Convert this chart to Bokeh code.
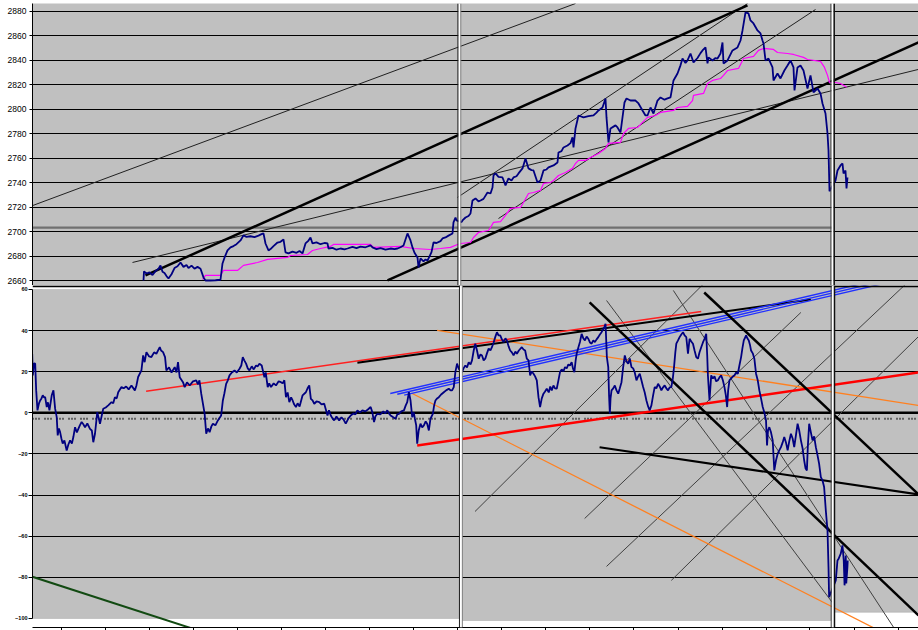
from bokeh.plotting import figure
from bokeh.models import Range1d, FixedTicker, BoxAnnotation, Span
from bokeh.layouts import column
from bokeh.embed import file_html
from bokeh.resources import INLINE

# ---------------- data: upper chart (price) ----------------
price_t = [143, 143.5, 146, 149, 152, 155, 158, 160, 162, 164, 166, 168, 171, 174, 177, 180, 183, 186, 188, 191,
           194, 197, 200, 203, 205, 210, 215, 220, 222, 224, 227, 230, 233, 236, 240, 243, 246, 250, 254, 258,
           261, 263, 265, 268, 270, 273, 277, 280, 283, 285, 288, 292, 296, 299, 302, 305, 308, 310, 312, 316,
           320, 324, 327, 328, 332, 336, 340, 344, 347, 352, 356, 360, 365, 370, 372, 376, 380, 385, 390, 394,
           397, 400, 403, 407, 410, 412, 414, 417, 418, 420, 423, 425, 427, 429, 431, 433, 436, 440, 442, 445,
           448, 452, 453, 455, 456,
           461, 462, 465, 468, 470, 472, 475, 478, 480, 483, 487, 490, 492, 493, 495, 498, 502, 505, 508, 511,
           513, 516, 518, 522, 525, 528, 531, 533, 537, 540, 543, 546, 548, 553, 557, 558, 561, 563, 567, 570,
           572, 573, 575, 578, 583, 588, 593, 596, 598, 602, 605, 606, 608, 610, 613, 615, 617, 620, 622, 624,
           626, 630, 635, 638, 642, 645, 647, 650, 653, 657, 660, 664, 667, 670, 673, 677, 680, 682, 685, 687,
           690, 693, 697, 700, 702, 705, 707, 708, 712, 715, 717, 720, 722, 723, 727, 730, 732, 737, 740, 742,
           745, 748, 750, 753, 757, 760, 762, 763, 765, 768, 772, 773, 777, 780, 784, 787, 790, 793, 794, 797,
           800, 803, 807, 810, 813, 817, 820, 822, 825, 827, 828, 829,
           835, 837, 840, 842, 843, 845, 846, 847]
price_v = [2660.4, 2667.8, 2666.1, 2667.0, 2664.9, 2668.0, 2670.0, 2672.7, 2667.5, 2666.5, 2664.0, 2662.0, 2665.5, 2670.5, 2672.0, 2675.1, 2671.5, 2673.0, 2670.5, 2672.5,
           2670.0, 2671.5, 2670.0, 2662.9, 2660.4, 2660.4, 2660.6, 2661.0, 2674.3, 2679.0, 2684.9, 2687.4, 2688.5, 2690.0, 2693.1, 2697.2, 2696.0, 2696.5, 2695.8, 2697.0,
           2698.2, 2698.8, 2690.6, 2684.9, 2686.0, 2688.5, 2691.4, 2692.0, 2693.9, 2683.3, 2682.5, 2684.0, 2683.0, 2684.5, 2682.5, 2690.6, 2693.0, 2695.5, 2690.6, 2691.5,
           2690.0, 2691.0, 2690.6, 2686.5, 2687.0, 2685.5, 2686.5, 2685.8, 2686.5, 2687.8, 2686.8, 2688.0, 2687.5, 2689.0, 2687.4, 2686.0, 2686.8, 2685.5, 2686.5, 2686.0,
           2686.5, 2687.5, 2689.0, 2698.8, 2693.1, 2687.4, 2683.0, 2679.2, 2671.0, 2678.4, 2676.0, 2677.5, 2676.7, 2680.0, 2683.5, 2691.4, 2691.0, 2692.5, 2694.7, 2695.5,
           2697.0, 2698.8, 2707.8, 2711.8, 2709.5,
           2708.0, 2709.4, 2711.8, 2713.0, 2715.1, 2725.7, 2727.4, 2725.0, 2725.7, 2727.0, 2732.2, 2731.4, 2736.3, 2746.1, 2747.8, 2745.0, 2744.5, 2738.0, 2743.7, 2742.0,
           2744.5, 2745.5, 2747.8, 2751.9, 2760.0, 2751.9, 2750.5, 2750.2, 2740.4, 2742.0, 2750.2, 2751.0, 2752.7, 2754.3, 2756.7, 2764.9, 2766.0, 2769.0, 2770.6, 2772.5,
           2777.2, 2769.0, 2784.5, 2795.1, 2793.5, 2794.5, 2795.1, 2797.5, 2799.2, 2801.6, 2809.0, 2793.5, 2773.1, 2784.5, 2786.0, 2787.0, 2785.3, 2781.2, 2793.5, 2805.7,
           2809.0, 2807.3, 2807.3, 2804.9, 2799.2, 2795.1, 2795.1, 2801.6, 2796.7, 2807.3, 2809.8, 2808.0, 2809.0, 2809.8, 2823.7, 2829.4, 2836.0, 2841.6, 2838.0, 2840.0,
           2845.7, 2838.4, 2842.0, 2846.0, 2848.2, 2850.6, 2837.6, 2842.5, 2840.0, 2842.0, 2841.6, 2845.7, 2854.7, 2837.6, 2840.0, 2845.0, 2848.2, 2850.6, 2856.3, 2864.5,
           2879.2, 2878.4, 2872.7, 2870.2, 2864.5, 2862.1, 2856.3, 2853.9, 2840.0, 2841.6, 2834.3, 2823.7, 2829.4, 2825.3, 2832.0, 2835.9, 2840.0, 2834.3, 2815.5, 2834.3,
           2835.9, 2831.8, 2817.1, 2827.8, 2813.9, 2817.1, 2813.1, 2804.9, 2796.7, 2780.4, 2766.5, 2733.2,
           2742.0, 2750.2, 2754.3, 2755.9, 2747.8, 2750.2, 2735.5, 2744.5]

ma_t = [202, 205, 220, 223, 237, 243, 257, 267, 287, 290, 307, 312, 320, 330, 333, 370, 373, 400, 413, 430,
        440, 450, 457,
        460, 470, 473, 478, 488, 490, 493, 500, 505, 510, 520, 523, 528, 533, 540, 543, 550, 553, 558, 565,
        572, 575, 578, 585, 590, 598, 605, 608, 620, 623, 628, 637, 642, 647, 655, 660, 673, 677, 687, 692,
        693, 703, 707, 712, 720, 723, 727, 738, 743, 753, 758, 763, 773, 777, 787, 793, 803, 807, 820, 824,
        827, 829,
        835, 840, 845, 846]
ma_v = [2661.2, 2664.5, 2664.5, 2668.6, 2668.6, 2672.7, 2675.1, 2677.6, 2679.2, 2680.8, 2681.6, 2684.9, 2686.5, 2688.2, 2689.8, 2689.8, 2687.4, 2688.2, 2686.5, 2685.7,
        2686.5, 2687.4, 2689.8,
        2690.6, 2691.4, 2695.5, 2699.6, 2701.2, 2703.7, 2707.8, 2708.5, 2713.5, 2719.2, 2720.0, 2724.1, 2731.4, 2732.2, 2733.9, 2739.6, 2740.4, 2742.0, 2746.1, 2748.6,
        2751.9, 2755.9, 2758.4, 2758.4, 2760.8, 2764.1, 2768.2, 2772.3, 2773.1, 2780.4, 2784.5, 2785.3, 2789.4, 2793.5, 2795.1, 2797.6, 2799.2, 2801.6, 2802.5, 2807.3,
        2811.5, 2813.1, 2821.2, 2823.7, 2825.3, 2827.8, 2831.8, 2833.5, 2841.6, 2843.3, 2848.2, 2849.8, 2849.0, 2846.5, 2845.7, 2844.9, 2842.5, 2840.8, 2839.2, 2834.3,
        2827.8, 2822.0,
        2822.0, 2821.2, 2818.8, 2818.0]

top_ticks = [2660, 2680, 2700, 2720, 2740, 2760, 2780, 2800, 2820, 2840, 2860, 2880]

top_thin_x0 = [0, 132, 457, 498]
top_thin_y0 = [2711.8, 2675.1, 2728.2, 2711.0]
top_thin_x1 = [575, 918, 747, 815]
top_thin_y1 = [2886.5, 2832.7, 2886.5, 2881.6]

top_thick_x0 = [145, 387]
top_thick_y0 = [2664.5, 2660.4]
top_thick_x1 = [747, 918]
top_thick_y1 = [2884.9, 2854.7]

ref_x = [22, 832]
ref_y = [2703.5, 2703.5]

# ---------------- data: lower chart (oscillator) ----------------
osc_t = [28.7, 29.3, 30.5, 31.7, 32.7, 34, 35.5, 36.7, 38, 39.3, 40.5, 41.7, 43.3, 44.5, 46, 48.3, 50, 51.7, 53.3, 54.3,
         55.5, 56.7, 58, 59.3, 61, 63.3, 65, 66.7, 68.5, 70, 71.7, 73.5, 75, 76.5, 78.3, 80, 81.7, 84, 86.7, 88.5,
         90, 91.7, 94, 95.5, 96.7, 98.5, 100, 102.5, 105, 108.3, 110, 111.7, 113.5, 115, 118.3, 120.5, 123, 125.5, 128.3, 131.7,
         133.3, 135, 138.3, 140, 141.5, 143.3, 146, 148.3, 151, 153.3, 156.7, 158, 160, 162, 163.3, 166, 168.5, 171.7, 173.5, 175,
         176.7, 180, 181.7, 184, 186.7, 190, 193.3, 195, 196.5, 198.3, 201.7, 203.3, 205, 206.7, 208.5, 210, 212.5, 215, 218.3, 220,
         221.5, 223.3, 225, 226.7, 229, 231.7, 234, 236.7, 238.5, 240, 241.5, 243.3, 245, 246.7, 249, 251, 253.3, 255, 256.7, 259,
         261.7, 263, 265, 266.5, 268.3, 271, 273.3, 276, 278.3, 280, 281.7, 283.3, 285, 286.7, 288.5, 290, 291.5, 293.3, 295, 297,
         300, 303.3, 305, 306.7, 308.3, 310, 311.7, 314, 316.7, 319, 321.7, 325, 326.5, 328.3, 330, 331.7, 334, 336.7, 339, 341,
         343.3, 346, 348.3, 351, 353, 355, 357.5, 360, 363, 365.5, 368.3, 370, 371.7, 373, 375, 378, 381, 383, 385, 386.7,
         388.3, 391, 393.3, 395, 396.7, 399, 401.7, 403.5, 405, 406.7, 408.3, 410, 411.5, 412.7, 414, 415, 416.5, 418.3, 420, 421.7,
         423.5, 425, 426.7, 428.3, 430.7, 432, 433.3, 435, 436.7, 439, 441.7, 444, 446.7, 448.5, 450, 451.7, 453.3, 455, 456.7,
         460, 461.5, 463.3, 465, 466.7, 468.5, 470, 471.7, 473.3, 475, 476.7, 478.5, 480, 481.7, 483.3, 485, 486.7, 488.5, 490, 491.7,
         493.3, 495, 496.7, 498.3, 500, 501.7, 503.5, 505, 506.7, 508.3, 510, 511.7, 513.5, 515, 517, 520, 521.7, 523.3, 525, 526.7,
         528.3, 530, 531.7, 533.3, 535, 536.7, 538.3, 540, 541.7, 543.3, 545, 547, 548.5, 550, 551.7, 553.3, 555, 556.7, 558.3, 560,
         561.7, 563.3, 565, 566.7, 568.3, 570, 571.3, 572.7, 574, 575, 576.7, 578.3, 580, 581.7, 583.3, 585, 586.7, 588.3, 590, 591.7,
         593.3, 595, 596.7, 598.3, 600, 601.5, 602.7, 604, 605.3, 606.7, 607.5, 608.3, 609, 610, 611.7, 613.3, 615, 616.7, 618.3, 620,
         621.5, 623.3, 625, 626.7, 628.3, 630, 631.7, 633.3, 635, 636.7, 638.3, 640, 641.7, 643.3, 645, 646.7, 648.3, 650, 651.7, 653.3,
         655, 656.7, 658.3, 660, 661.7, 663.3, 665, 666.7, 668.3, 670, 671.5, 672.7, 674, 675, 676.7, 678.3, 680, 681.7, 683.3, 685,
         686.7, 688.3, 690, 691.7, 693.3, 695, 696.7, 698.3, 700, 701.7, 703.3, 705, 706, 706.7, 708.3, 710, 711.7, 713.3, 715, 716.7,
         718.3, 720, 721.7, 723.3, 724.7, 726, 727, 728.3, 730, 731.7, 733.3, 735, 736.7, 738.3, 740, 741.3, 742.7, 744, 745, 746.3,
         747.7, 749, 750, 751.7, 753.3, 755, 756.7, 758.3, 760, 761.7, 763.3, 765, 766, 767, 768.3, 770, 771.7, 772.5, 773.3, 775,
         776.7, 778.3, 780, 781.7, 783.3, 785, 786.7, 788.3, 790, 791.7, 793.3, 795, 796.7, 798.3, 800, 801.7, 803.3, 804.7, 806, 807,
         808.3, 810, 811.7, 813.3, 815, 816.7, 818.3, 820, 821.7, 823.3, 825, 826.7, 827.7, 828.3,
         835, 836.7, 838, 840, 841.7, 843, 843.8, 845, 845.5, 846.7, 847]
osc_v = [28.7, 18.2, 24.0, 23.9, 10.9, 1.2, 4.6, 6.0, 7.0, 8.5, 7.5, 7.6, 2.8, 5.1, 1.2, 8.5, 10.9, 2.0, -2.1, -11.0,
         -7.6, -9.4, -12.5, -15.0, -13.4, -18.3, -15.4, -13.4, -14.9, -11.8, -7.0, -9.5, -7.8, -6.1, -4.5, -5.6, -7.0, -5.2, -7.8, -8.6,
         -14.3, -10.2, 0.3, -2.7, -5.3, -1.3, 2.0, 2.6, 3.6, 5.2, 4.6, 7.6, 7.0, 10.0, 12.5, 11.9, 12.8, 11.4, 13.3, 10.9,
         13.3, 17.4, 20.6, 27.9, 24.6, 29.5, 27.4, 27.1, 29.4, 28.7, 31.9, 30.3, 29.5, 27.1, 20.6, 22.1, 19.6, 22.2, 19.6, 24.6,
         17.3, 14.9, 12.5, 14.8, 13.3, 15.3, 15.8, 13.8, 15.8, 9.3, -0.4, -10.2, -7.6, -9.4, -6.6, -5.3, -6.1, -3.7, -1.3, 6.0,
         9.4, 14.1, 15.8, 18.2, 19.6, 20.6, 19.6, 21.4, 23.0, 27.1, 25.5, 23.9, 21.6, 20.6, 22.6, 21.1, 23.0, 22.6, 23.9, 23.0,
         17.3, 19.6, 12.5, 14.3, 12.5, 14.3, 13.3, 15.3, 14.9, 14.3, 15.8, 7.6, 9.9, 5.2, 7.5, 6.0, 4.1, 2.8, 4.6, 3.1,
         8.5, 10.0, 11.9, 13.3, 6.8, 6.0, 4.4, 5.5, 5.2, 4.1, 4.4, -1.3, 1.2, -1.3, -2.7, -3.7, -1.8, -3.7, -2.2, -3.2,
         -5.3, -2.7, -1.3, -0.3, -0.8, 1.2, 0.2, 1.2, 0.7, 1.6, 2.8, 0.2, -4.5, -1.8, -0.5, -0.8, 0.7, -0.3, 1.2, -0.3,
         -1.3, -2.2, -2.9, -0.8, -0.5, 0.7, 1.2, 3.6, 5.2, 10.0, 6.0, -2.1, 0.2, -2.9, -6.1, -15.0, -8.6, -5.3, -7.1, -6.1,
         -4.2, -5.3, -8.6, -2.9, -0.5, 3.6, 6.0, 7.0, 7.6, 8.9, 10.0, 10.9, 11.7, 10.9, 10.9, 12.5, 19.8, 23.9, 21.4,
         19.8, 21.6, 23.0, 22.1, 24.6, 23.5, 25.5, 30.3, 33.6, 30.3, 26.3, 28.4, 27.9, 25.5, 26.3, 28.9, 31.2, 30.3, 31.9, 34.2,
         36.8, 39.2, 37.6, 37.6, 35.7, 34.4, 36.2, 35.2, 32.3, 30.3, 29.4, 27.9, 29.8, 28.7, 30.3, 31.9, 30.8, 30.3, 26.3, 25.5,
         18.2, 20.1, 19.0, 17.7, 15.8, 7.6, 2.8, 7.0, 9.3, 10.4, 11.7, 9.9, 12.8, 10.9, 13.3, 11.9, 11.7, 15.8, 19.8, 21.1,
         20.1, 22.2, 21.6, 23.5, 23.0, 24.6, 21.6, 19.8, 25.5, 28.7, 31.8, 34.4, 38.4, 36.2, 35.2, 37.1, 36.0, 34.2, 33.6, 35.2,
         34.4, 35.7, 36.8, 38.1, 39.2, 40.5, 41.7, 43.3, 27.1, 22.2, 8.5, -0.4, 7.0, 10.9, 11.9, 13.3, 10.9, 9.3, 11.9, 14.9,
         21.6, 27.9, 25.0, 23.9, 26.4, 22.2, 21.6, 19.6, 15.8, 17.7, 19.0, 15.8, 12.5, 9.9, 6.0, 3.1, 1.2, 3.6, 8.5, 12.5,
         11.9, 14.1, 12.8, 10.9, 12.4, 13.3, 11.9, 10.9, 12.4, 12.5, 16.7, 22.2, 29.4, 33.6, 35.2, 36.8, 38.1, 39.2, 37.6, 36.8,
         28.7, 36.0, 34.7, 33.6, 30.3, 27.1, 26.3, 29.4, 31.9, 34.2, 36.0, 38.4, 27.9, 18.2, 6.0, 18.2, 16.7, 17.7, 15.3, 15.8,
         17.2, 18.2, 15.8, 12.5, 8.5, 2.8, 10.9, 15.8, 16.7, 17.7, 18.2, 19.6, 19.0, 23.0, 27.1, 31.3, 35.2, 36.6, 37.6, 36.2,
         35.2, 32.8, 30.3, 28.9, 26.3, 19.0, 15.8, 10.9, 7.0, 2.8, 0.2, -3.7, -15.9, -8.6, -7.0, -9.5, -13.4, -20.7, -28.0, -23.2,
         -19.9, -18.3, -16.7, -14.4, -11.8, -14.4, -18.3, -13.9, -10.2, -12.5, -16.7, -11.0, -5.3, -8.6, -13.4, -17.3, -23.2, -27.1, -28.0, -15.9,
         -5.3, -9.5, -13.4, -11.5, -16.7, -20.7, -24.8, -31.3, -32.9, -36.1, -47.5, -57.2, -75.0, -89.6,
         -81.5, -71.8, -70.8, -68.5, -64.5, -71.8, -83.9, -69.4, -83.0, -75.0, -71.8]

bot_ticks = [60, 40, 20, 0, -20, -40, -60, -80, -100]
bot_grid = [40, 20, -20, -40, -60, -80]
dotted_level = -2.9
x_tick_pos = [58, 102, 146.5, 191, 235, 279, 323, 367, 411.5, 455.7, 500, 544, 588, 632.5,
              676.7, 721, 765, 809, 853.5, 897.7]

red_thin_x0, red_thin_y0, red_thin_x1, red_thin_y1 = [143], [10.5], [700], [49.3]
red_thick_x0, red_thick_y0, red_thick_x1, red_thick_y1 = [415], [-15.9], [918], [19.6]
orange_x0 = [435, 410]
orange_y0 = [40.1, 9.4]
orange_x1 = [918, 878]
orange_y1 = [3.6, -105.8]
blue_x0 = [388, 395, 402]
blue_y0 = [9.4, 9.0, 8.6]
blue_x1 = [918, 918, 918]
blue_y1 = [69.2, 68.0, 66.8]
black_thick_x0 = [588, 703]
black_thick_y0 = [53.7, 58.5]
black_thick_x1 = [918, 918]
black_thick_y1 = [-98.5, -39.7]
black_mid_x0 = [598, 355]
black_mid_y0 = [-16.8, 24.3]
black_mid_x1 = [918, 810]
black_mid_y1 = [-39.7, 55.1]
gray_thin_x0 = [473, 583, 605, 670, 605, 672]
gray_thin_y0 = [-48.0, -51.4, -74.7, -81.5, 54.6, 59.5]
gray_thin_x1 = [720, 800, 907, 918, 833, 895]
gray_thin_y1 = [71.2, 48.8, 63.4, 37.1, -93.2, -105.8]
green_x0, green_y0, green_x1, green_y1 = [0], [-75.2], [195], [-105.8]

GRAY = "#C0C0C0"
NAVY = "#000080"
FONT = "Liberation Sans"

# ---------------- upper figure ----------------
top = figure(width=918, height=285, x_range=Range1d(32, 918), y_range=Range1d(2656.3, 2886.5),
             output_backend="svg", toolbar_location=None, x_axis_location=None,
             min_border_left=32, min_border_right=0, min_border_top=3, min_border_bottom=0,
             background_fill_color=GRAY, border_fill_color="white", outline_line_color=None)
top.xgrid.visible = False
top.ygrid.ticker = FixedTicker(ticks=top_ticks)
top.ygrid.grid_line_color = "black"
top.ygrid.grid_line_width = 1
ya = top.yaxis[0]
ya.ticker = FixedTicker(ticks=top_ticks)
ya.major_label_text_font = FONT
ya.major_label_text_font_size = "8.5px"
ya.major_label_text_color = "black"
ya.major_tick_out = 3
ya.major_tick_in = 0
ya.minor_tick_out = 0
ya.minor_tick_in = 0
ya.major_label_standoff = 3
ya.axis_line_color = "black"

top.line(ref_x, ref_y, line_color="#707070", line_width=2.2)
top.segment(top_thin_x0, top_thin_y0, top_thin_x1, top_thin_y1, line_color="#202020", line_width=1)
top.segment(top_thick_x0, top_thick_y0, top_thick_x1, top_thick_y1, line_color="black", line_width=2.5)
top.line(ma_t, ma_v, line_color="#FF00FF", line_width=1.2)
top.line(price_t, price_v, line_color=NAVY, line_width=1.8)

def separators(fig):
    fig.add_layout(BoxAnnotation(left=457.8, right=460.0, fill_color="white", fill_alpha=1, line_color=None))
    fig.add_layout(Span(location=457.4, dimension="height", line_color="#202020", line_width=1))
    fig.add_layout(Span(location=460.3, dimension="height", line_color="#808080", line_width=1))
    fig.add_layout(BoxAnnotation(left=830.9, right=833.2, fill_color="white", fill_alpha=1, line_color=None))
    fig.add_layout(Span(location=830.4, dimension="height", line_color="#404040", line_width=1))
    fig.add_layout(Span(location=833.7, dimension="height", line_color="#101010", line_width=1.5))

separators(top)

# ---------------- lower figure ----------------
bot = figure(width=918, height=345, x_range=Range1d(29, 918), y_range=Range1d(-104.4, 61.9),
             output_backend="svg", toolbar_location=None,
             min_border_left=29, min_border_right=0, min_border_top=0, min_border_bottom=3,
             background_fill_color="white", border_fill_color="white", outline_line_color=None)
bot.xgrid.visible = False
bot.ygrid.ticker = FixedTicker(ticks=bot_grid)
bot.ygrid.grid_line_color = "black"
bot.ygrid.grid_line_width = 1

for l, r, b, t in [(None, 457.4, -100, 60), (460.3, 830.4, -101, 61), (833.7, None, -97, 61)]:
    bot.add_layout(BoxAnnotation(left=l, right=r, bottom=b, top=t, fill_color=GRAY, fill_alpha=1,
                                 line_color="#808080", line_width=1, level="image"))

by = bot.yaxis[0]
by.ticker = FixedTicker(ticks=bot_ticks)
by.bounds = (-100, 60)
by.major_label_text_font = FONT
by.major_label_text_font_size = "5.5px"
by.major_label_text_font_style = "bold"
by.major_label_text_color = "black"
by.major_tick_out = 4
by.major_tick_in = 0
by.minor_tick_out = 0
by.minor_tick_in = 0
by.major_label_standoff = 1
by.axis_line_color = "black"

bx = bot.xaxis[0]
bx.ticker = FixedTicker(ticks=x_tick_pos)
bx.major_label_text_font_size = "1px"
bx.major_label_text_alpha = 0
bx.major_label_standoff = 0
bx.major_tick_out = 3
bx.major_tick_in = 0
bx.minor_tick_out = 0
bx.minor_tick_in = 0
bx.axis_line_color = "black"

bot.add_layout(Span(location=0, dimension="width", line_color="black", line_width=2.5, level="underlay"))
bot.add_layout(Span(location=dotted_level, dimension="width", line_color="black", line_width=2,
                    line_dash="1 2 1 2 1 5", level="underlay"))

bot.segment(gray_thin_x0, gray_thin_y0, gray_thin_x1, gray_thin_y1, line_color="#404040", line_width=1)
bot.segment(orange_x0, orange_y0, orange_x1, orange_y1, line_color="#FF8020", line_width=1.3)
bot.segment(red_thin_x0, red_thin_y0, red_thin_x1, red_thin_y1, line_color="#FF2020", line_width=1.5)
bot.segment(black_mid_x0, black_mid_y0, black_mid_x1, black_mid_y1, line_color="black", line_width=2)
bot.segment(blue_x0, blue_y0, blue_x1, blue_y1, line_color="#2030FF", line_width=1.4)
bot.segment(red_thick_x0, red_thick_y0, red_thick_x1, red_thick_y1, line_color="#FF0000", line_width=2.5)
bot.segment(black_thick_x0, black_thick_y0, black_thick_x1, black_thick_y1, line_color="black", line_width=2.5)
bot.segment(green_x0, green_y0, green_x1, green_y1, line_color="#124A12", line_width=2)
bot.line(osc_t, osc_v, line_color=NAVY, line_width=1.8)

bot.add_layout(Span(location=61.5, dimension="width", line_color="black", line_width=2))
separators(bot)

layout = column(top, bot, spacing=0)
open("out.html", "w").write(file_html(layout, INLINE))
